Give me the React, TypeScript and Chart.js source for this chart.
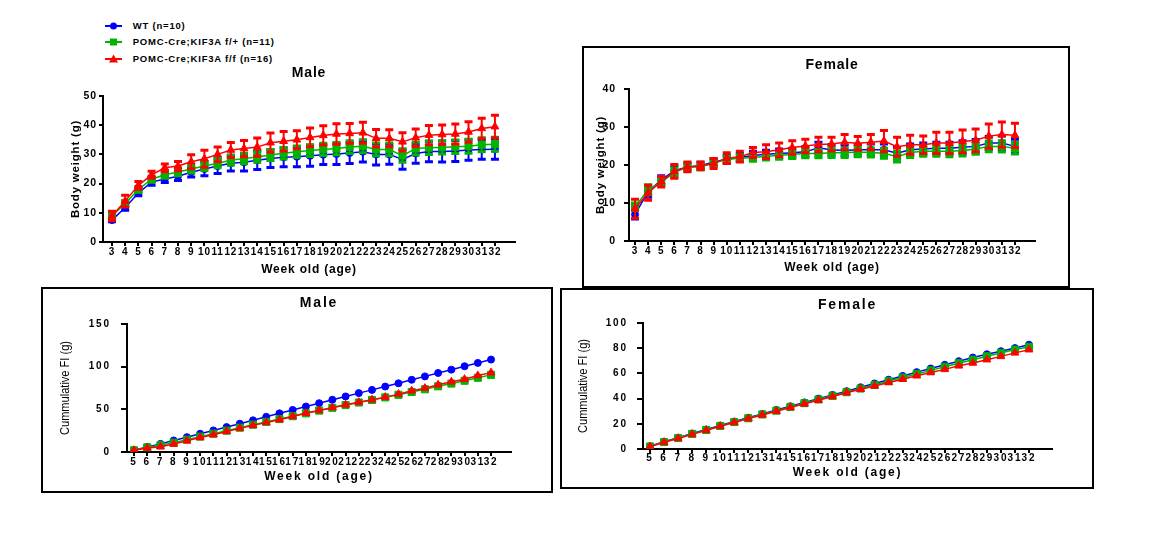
import React, { useEffect, useRef } from 'react';
import { Chart, registerables } from 'chart.js';

Chart.register(...registerables);

const FONT = '"Liberation Sans", Arial, Helvetica, sans-serif';

const BLUE = '#0000FF';
const GREEN = '#00B400';
const RED = '#FF0000';

const seriesNames = ['WT (n=10)', 'POMC-Cre;KIF3A f/+ (n=11)', 'POMC-Cre;KIF3A f/f (n=16)'];

// x categories (tick labels): week of age
const bwWeeks = [3, 4, 5, 6, 7, 8, 9, 10, 11, 12, 13, 14, 15, 16, 17, 18, 19, 20, 21, 22, 23, 24, 25, 26, 27, 28, 29, 30, 31, 32];
const fiWeeks = [5, 6, 7, 8, 9, 10, 11, 12, 13, 14, 15, 16, 17, 18, 19, 20, 21, 22, 23, 24, 25, 26, 27, 28, 29, 30, 31, 32];

// Male body weight (g), mean and SEM
const maleBwWT = [7.5, 11.8, 16.8, 20.5, 21.6, 22.5, 23.9, 25.0, 26.0, 27.0, 27.3, 28.0, 28.6, 29.0, 29.2, 29.5, 29.9, 30.1, 30.5, 30.9, 30.0, 30.0, 28.3, 30.3, 31.0, 31.0, 31.2, 31.5, 31.7, 31.8];
const maleBwWTErr = [0.6, 0.9, 1.0, 1.1, 1.2, 1.4, 1.6, 2.3, 2.5, 2.7, 3.0, 3.2, 3.1, 3.2, 3.4, 3.6, 3.4, 3.6, 3.6, 3.5, 3.6, 3.4, 3.4, 3.3, 3.5, 3.6, 3.6, 3.5, 3.4, 3.5];
const maleBwHet = [9.0, 13.2, 18.0, 21.5, 23.0, 24.0, 25.0, 26.0, 27.0, 28.0, 28.6, 29.1, 29.8, 30.4, 30.9, 31.3, 31.7, 32.0, 32.5, 32.8, 31.7, 31.7, 29.6, 32.0, 32.3, 32.4, 32.6, 32.8, 33.3, 33.5];
const maleBwHetErr = [0.8, 1.0, 1.0, 1.0, 1.2, 1.3, 1.4, 1.5, 1.6, 1.7, 1.8, 1.8, 1.9, 2.0, 2.0, 2.0, 2.1, 2.1, 2.2, 2.2, 2.2, 2.2, 2.3, 2.2, 2.3, 2.3, 2.3, 2.4, 2.4, 2.4];
const maleBwKO = [8.9, 14.0, 19.4, 23.0, 25.4, 26.0, 27.5, 28.5, 30.0, 31.5, 32.0, 32.5, 34.0, 34.5, 35.0, 35.8, 36.5, 37.0, 37.2, 37.4, 35.5, 35.5, 34.3, 35.7, 36.6, 36.8, 37.0, 37.7, 38.9, 39.5];
const maleBwKOErr = [1.6, 2.0, 1.3, 1.2, 1.3, 1.6, 2.4, 2.9, 2.5, 2.6, 2.8, 3.1, 3.3, 3.3, 3.1, 3.2, 3.3, 3.5, 3.4, 3.6, 3.0, 2.9, 3.1, 3.0, 3.3, 3.3, 3.4, 3.5, 3.5, 3.9];

// Female body weight (g), mean and SEM
const femBwWT = [7.0, 13.0, 16.0, 18.5, 19.5, 19.8, 20.8, 21.5, 22.0, 22.5, 22.8, 23.0, 23.2, 23.5, 24.5, 24.0, 23.8, 24.0, 24.0, 24.0, 23.1, 24.0, 24.2, 24.4, 24.4, 24.7, 24.9, 25.8, 25.8, 24.9];
const femBwWTErr = [1.2, 1.5, 1.2, 1.3, 1.0, 0.9, 0.9, 1.0, 1.0, 1.1, 1.1, 1.2, 1.2, 1.3, 1.5, 1.4, 1.4, 1.4, 1.5, 1.5, 1.5, 1.5, 1.6, 1.6, 1.6, 1.7, 1.8, 1.7, 1.8, 1.9];
const femBwHet = [9.0, 13.5, 15.5, 18.0, 19.5, 19.5, 20.5, 21.5, 21.8, 22.0, 22.3, 22.5, 22.8, 23.0, 23.0, 23.2, 23.2, 23.4, 23.3, 23.1, 22.2, 23.3, 23.6, 23.6, 23.6, 23.8, 24.2, 24.9, 24.9, 24.4];
const femBwHetErr = [1.0, 1.3, 1.0, 1.2, 0.9, 0.8, 0.8, 0.9, 0.9, 1.0, 1.0, 1.0, 1.1, 1.1, 1.1, 1.2, 1.2, 1.2, 1.2, 1.3, 1.4, 1.3, 1.3, 1.3, 1.4, 1.4, 1.4, 1.4, 1.5, 1.5];
const femBwKO = [8.5, 12.7, 15.6, 18.3, 19.5, 19.8, 20.4, 21.8, 22.2, 23.3, 23.5, 24.0, 24.6, 25.0, 25.4, 25.5, 26.0, 25.7, 26.0, 26.3, 24.8, 25.3, 25.3, 25.8, 25.8, 26.2, 26.5, 27.6, 28.0, 27.8];
const femBwKOErr = [2.5, 2.0, 1.4, 1.8, 1.3, 1.0, 1.3, 1.4, 1.4, 1.3, 1.8, 1.8, 1.8, 1.8, 1.9, 1.8, 2.0, 1.8, 2.0, 2.8, 2.5, 2.5, 2.3, 2.8, 2.8, 3.0, 3.0, 3.2, 3.3, 3.2];

// Cumulative food intake (g)
const maleFiWT = [2.0, 5.8, 9.5, 13.5, 17.4, 21.4, 25.3, 29.2, 33.2, 37.1, 41.2, 45.3, 49.3, 53.3, 57.2, 61.2, 65.1, 69.0, 72.8, 76.7, 80.5, 84.6, 88.6, 92.6, 96.5, 100.5, 104.4, 108.3];
const maleFiHet = [2.0, 5.5, 8.0, 11.0, 14.5, 18.0, 21.5, 25.0, 28.5, 32.0, 35.3, 38.6, 42.0, 45.3, 48.5, 51.8, 55.0, 58.0, 61.0, 64.0, 67.0, 70.3, 73.5, 77.0, 80.2, 83.5, 87.0, 90.4];
const maleFiKO = [2.0, 4.7, 6.2, 9.3, 13.2, 17.1, 20.3, 24.1, 27.7, 31.2, 34.6, 37.8, 41.7, 45.6, 48.7, 52.2, 55.3, 58.4, 61.2, 64.3, 67.8, 71.7, 74.8, 78.7, 82.2, 85.3, 89.6, 93.0];
const femFiWT = [2.2, 5.8, 9.0, 12.3, 15.5, 18.6, 21.8, 24.8, 27.8, 30.9, 33.9, 37.0, 40.0, 42.9, 45.9, 49.0, 52.0, 55.0, 58.0, 61.0, 63.9, 66.8, 69.7, 72.6, 75.2, 77.6, 80.1, 82.8];
const femFiHet = [2.0, 5.5, 8.7, 12.0, 15.1, 18.3, 21.4, 24.4, 27.4, 30.4, 33.4, 36.4, 39.3, 42.2, 45.1, 48.0, 50.9, 53.9, 56.7, 59.6, 62.4, 65.3, 68.1, 70.9, 73.6, 76.2, 78.9, 81.0];
const femFiKO = [1.9, 5.3, 8.4, 11.6, 14.8, 18.0, 21.1, 24.1, 27.0, 30.0, 32.9, 35.8, 38.7, 41.6, 44.6, 47.4, 50.0, 52.8, 55.4, 58.1, 60.7, 63.2, 66.0, 68.3, 70.9, 73.5, 76.3, 78.8];

const errorBars = {
  id: 'errorBars',
  beforeDatasetDraw(chart: any, args: any) {
    const ds = chart.data.datasets[args.index];
    if (!ds.errors) return;
    const ctx = chart.ctx;
    const ys = chart.scales.y;
    ctx.save();
    ctx.strokeStyle = ds.borderColor;
    ctx.lineCap = 'butt';
    args.meta.data.forEach((el: any, j: number) => {
      const v = ds.data[j].y;
      const e = ds.errors[j];
      const y1 = ys.getPixelForValue(v + e);
      const y2 = ys.getPixelForValue(v - e);
      const x = el.x;
      ctx.lineWidth = 2;
      ctx.beginPath();
      ctx.moveTo(x, y1);
      ctx.lineTo(x, y2);
      ctx.stroke();
      ctx.lineWidth = 3;
      ctx.beginPath();
      ctx.moveTo(x - 4, y1);
      ctx.lineTo(x + 4, y1);
      ctx.moveTo(x - 4, y2);
      ctx.lineTo(x + 4, y2);
      ctx.stroke();
    });
    ctx.restore();
  },
};

const panelText = {
  id: 'panelText',
  beforeDraw(chart: any, _a: any, opts: any) {
    chart.ctx.letterSpacing = (opts.spacing || 0) + 'px';
  },
  afterDraw(chart: any, _a: any, opts: any) {
    const ctx = chart.ctx;
    const a = chart.chartArea;
    ctx.save();
    ctx.font = opts.font;
    ctx.fillStyle = '#000';
    ctx.textAlign = 'center';
    ctx.textBaseline = 'middle';
    ctx.fillText(opts.text, (a.left + a.right) / 2, opts.y);
    ctx.restore();
    ctx.letterSpacing = '0px';
  },
};

type Series = { name: string; color: string; style: string; radius: number; values: number[]; errors?: number[] };
type PanelCfg = {
  left: number; top: number; width: number;
  area: { l: number; r: number; t: number; b: number };
  weeks: number[]; xMin: number; xMax: number; yMax: number; yStep: number;
  title: string; titleY: number; titleSize: number;
  yTitle: string; yTitleX: number; yTitleSize: number; yTitleBold: boolean; yTitleCompress: number; yTitleNoSpacing: boolean;
  xTitle: string; xTitleY: number; xTitleSize: number;
  xTickSize: number; yTickSize: number; xTickLen: number; yTickLen: number; xTickPad: number; yTickPad: number;
  spacing: number; lineWidth: number; series: Series[];
};

function Panel({ cfg }: { cfg: PanelCfg }) {
  const ref = useRef<HTMLCanvasElement | null>(null);
  const lhX = cfg.xTitleSize * 1.2;
  const hx = cfg.xTitleY - cfg.area.b + lhX / 2 + 1;
  const height = Math.ceil(cfg.area.b - cfg.top + hx + 2);
  useEffect(() => {
    const canvas = ref.current;
    if (!canvas) return;
    const wy = cfg.area.l - cfg.left;
    const pt = cfg.area.t - cfg.top;
    const pr = cfg.left + cfg.width - cfg.area.r;
    const pb = cfg.top + height - cfg.area.b - hx;
    const lhY = cfg.yTitleSize * 1.2;
    const yTitlePad = Math.max(0, cfg.yTitleX - cfg.left - lhY / 2);
    const datasets = cfg.series.map((s, i) => ({
      label: s.name,
      data: cfg.weeks.map((w, j) => ({ x: w, y: s.values[j] })),
      errors: s.errors,
      borderColor: s.color,
      backgroundColor: s.color,
      borderWidth: cfg.lineWidth,
      pointStyle: s.style,
      pointRadius: s.radius,
      pointHoverRadius: s.radius,
      pointBackgroundColor: s.color,
      pointBorderColor: s.color,
      pointBorderWidth: 1,
      tension: 0,
      fill: false,
      order: 3 - i,
    }));
    const chart = new Chart(canvas, {
      type: 'line',
      data: { datasets } as any,
      options: {
        animation: false,
        responsive: false,
        maintainAspectRatio: false,
        devicePixelRatio: 1,
        events: [],
        layout: { padding: { left: 0, top: pt, right: pr, bottom: pb } },
        plugins: {
          legend: { display: false },
          title: { display: false },
          tooltip: { enabled: false },
          panelText: {
            text: cfg.title,
            y: cfg.titleY - cfg.top,
            font: `bold ${cfg.titleSize}px ${FONT}`,
            spacing: cfg.spacing,
          },
        } as any,
        scales: {
          x: {
            type: 'linear',
            min: cfg.xMin,
            max: cfg.xMax,
            afterBuildTicks: (s: any) => {
              s.ticks = cfg.weeks.map((v) => ({ value: v }));
            },
            afterFit: (s: any) => {
              s.height = hx;
            },
            ticks: {
              autoSkip: false,
              maxRotation: 0,
              minRotation: 0,
              padding: cfg.xTickPad,
              color: '#000',
              font: { family: FONT, size: cfg.xTickSize, weight: 'bold', lineHeight: 1 },
              callback: (v: any) => String(v),
            },
            grid: { display: true, drawOnChartArea: false, drawTicks: true, tickLength: cfg.xTickLen, color: '#000', lineWidth: 2 },
            border: { display: true, color: '#000', width: 2 },
            title: {
              display: true,
              text: cfg.xTitle,
              color: '#000',
              font: { family: FONT, size: cfg.xTitleSize, weight: 'bold', lineHeight: 1.2 },
              padding: { top: 0, bottom: 1 },
            },
          },
          y: {
            type: 'linear',
            min: 0,
            max: cfg.yMax,
            afterFit: (s: any) => {
              s.width = wy;
              if (!s._titlePatched) {
                const orig = s.drawTitle;
                s.drawTitle = function () {
                  const ctx = this.ctx;
                  ctx.save();
                  if (cfg.yTitleNoSpacing) ctx.letterSpacing = '0px';
                  const cx = cfg.yTitleX - cfg.left;
                  const cy = (this.top + this.bottom) / 2;
                  ctx.translate(cx, cy);
                  ctx.scale(1, cfg.yTitleCompress);
                  ctx.translate(-cx, -cy);
                  orig.call(this);
                  ctx.restore();
                };
                s._titlePatched = true;
              }
            },
            ticks: {
              stepSize: cfg.yStep,
              padding: cfg.yTickPad,
              color: '#000',
              font: { family: FONT, size: cfg.yTickSize, weight: 'bold', lineHeight: 1 },
            },
            grid: { display: true, drawOnChartArea: false, drawTicks: true, tickLength: cfg.yTickLen, color: '#000', lineWidth: 2 },
            border: { display: true, color: '#000', width: 2 },
            title: {
              display: true,
              text: cfg.yTitle,
              color: '#000',
              font: { family: FONT, size: cfg.yTitleSize, weight: cfg.yTitleBold ? 'bold' : 'normal', lineHeight: 1.2 },
              padding: { top: yTitlePad, bottom: 0 },
            },
          },
        },
      } as any,
      plugins: [errorBars, panelText],
    });
    return () => chart.destroy();
  }, []);
  return (
    <canvas
      ref={ref}
      width={cfg.width}
      height={height}
      style={{ position: 'absolute', left: cfg.left, top: cfg.top, width: cfg.width, height }}
    />
  );
}

const topCommon = {
  weeks: bwWeeks,
  yStep: 10,
  titleSize: 14,
  yTitle: 'Body weight (g)',
  yTitleSize: 11.5,
  yTitleBold: true,
  yTitleCompress: 1,
  yTitleNoSpacing: false,
  xTitle: 'Week old (age)',
  xTitleSize: 12,
  xTickSize: 10,
  yTickSize: 10.5,
  xTickLen: 4,
  xTickPad: 1.5,
  spacing: 0.8,
  lineWidth: 1.5,
};

const bottomCommon = {
  weeks: fiWeeks,
  titleSize: 14,
  yTitle: 'Cummulative FI (g)',
  yTitleSize: 13,
  yTitleBold: false,
  yTitleCompress: 0.85,
  yTitleNoSpacing: true,
  xTitle: 'Week old (age)',
  xTitleSize: 12,
  xTickSize: 10,
  yTickSize: 10,
  xTickLen: 4,
  yTickLen: 6,
  spacing: 1.8,
  lineWidth: 1.5,
};

const maleBwCfg: PanelCfg = {
  ...topCommon,
  left: 60, top: 55, width: 470,
  area: { l: 103, r: 515, t: 96, b: 242 },
  xMin: 2.32, xMax: 33.52, yMax: 50,
  title: 'Male', titleY: 73,
  yTitleX: 76, xTitleY: 270,
  yTickLen: 4, yTickPad: 2.2,
  series: [
    { name: seriesNames[0], color: BLUE, style: 'circle', radius: 3.5, values: maleBwWT, errors: maleBwWTErr },
    { name: seriesNames[1], color: GREEN, style: 'rect', radius: 5, values: maleBwHet, errors: maleBwHetErr },
    { name: seriesNames[2], color: RED, style: 'triangle', radius: 4.5, values: maleBwKO, errors: maleBwKOErr },
  ],
};

const femBwCfg: PanelCfg = {
  ...topCommon,
  left: 589, top: 50, width: 461,
  area: { l: 629, r: 1035, t: 89, b: 241 },
  xMin: 2.54, xMax: 33.53, yMax: 40,
  title: 'Female', titleY: 65,
  yTitleX: 601, xTitleY: 268,
  yTickLen: 5, yTickPad: 8.2,
  series: [
    { name: seriesNames[0], color: BLUE, style: 'circle', radius: 3.5, values: femBwWT, errors: femBwWTErr },
    { name: seriesNames[1], color: GREEN, style: 'rect', radius: 5, values: femBwHet, errors: femBwHetErr },
    { name: seriesNames[2], color: RED, style: 'triangle', radius: 4.5, values: femBwKO, errors: femBwKOErr },
  ],
};

const maleFiCfg: PanelCfg = {
  ...bottomCommon,
  left: 50, top: 292, width: 490,
  area: { l: 127, r: 511, t: 324, b: 452 },
  xMin: 4.47, xMax: 33.51, yMax: 150, yStep: 50,
  title: 'Male', titleY: 303.5,
  yTitleX: 65, xTitleY: 477,
  xTickPad: 1.5, yTickPad: 10.2,
  series: [
    { name: seriesNames[0], color: BLUE, style: 'circle', radius: 3.5, values: maleFiWT },
    { name: seriesNames[1], color: GREEN, style: 'rect', radius: 5, values: maleFiHet },
    { name: seriesNames[2], color: RED, style: 'triangle', radius: 4.5, values: maleFiKO },
  ],
};

const femFiCfg: PanelCfg = {
  ...bottomCommon,
  left: 572, top: 292, width: 493,
  area: { l: 643, r: 1052, t: 323, b: 449 },
  xMin: 4.5, xMax: 33.64, yMax: 100, yStep: 20,
  title: 'Female', titleY: 305,
  yTitleX: 583, xTitleY: 473,
  xTickPad: 0, yTickPad: 9.2,
  series: [
    { name: seriesNames[0], color: BLUE, style: 'circle', radius: 3.5, values: femFiWT },
    { name: seriesNames[1], color: GREEN, style: 'rect', radius: 5, values: femFiHet },
    { name: seriesNames[2], color: RED, style: 'triangle', radius: 4.5, values: femFiKO },
  ],
};

function LegendMarker({ shape, color }: { shape: string; color: string }) {
  if (shape === 'circle') return <circle cx={9.5} cy={7} r={3.5} fill={color} />;
  if (shape === 'rect') return <rect x={6} y={3.5} width={7} height={7} fill={color} />;
  return <polygon points="9.5,2.5 14,10.5 5,10.5" fill={color} />;
}

function Legend() {
  const rows = [
    { name: seriesNames[0], color: BLUE, shape: 'circle' },
    { name: seriesNames[1], color: GREEN, shape: 'rect' },
    { name: seriesNames[2], color: RED, shape: 'triangle' },
  ];
  return (
    <div style={{ position: 'absolute', left: 100, top: 18.7, width: 230, height: 54 }}>
      {rows.map((r, i) => (
        <div key={i} style={{ position: 'absolute', left: 0, top: i * 16.8, width: 230, height: 14 }}>
          <svg width={20} height={14} style={{ position: 'absolute', left: 4, top: 0 }}>
            <line x1={1} y1={7} x2={18} y2={7} stroke={r.color} strokeWidth={2} />
            <LegendMarker shape={r.shape} color={r.color} />
          </svg>
          <span
            style={{
              position: 'absolute',
              left: 32.7,
              top: 0,
              lineHeight: '14px',
              fontFamily: FONT,
              fontWeight: 'bold',
              fontSize: 9.5,
              letterSpacing: '0.8px',
              whiteSpace: 'nowrap',
              color: '#000',
            }}
          >
            {r.name}
          </span>
        </div>
      ))}
    </div>
  );
}

function Box({ l, t, w, h }: { l: number; t: number; w: number; h: number }) {
  return (
    <div
      style={{
        position: 'absolute',
        left: l,
        top: t,
        width: w,
        height: h,
        boxSizing: 'border-box',
        border: '2px solid #000',
      }}
    />
  );
}

export default function App() {
  return (
    <div style={{ position: 'absolute', left: 0, top: 0, width: 1161, height: 560, background: '#fff', overflow: 'hidden' }}>
      <Box l={582} t={46} w={488} h={242} />
      <Box l={41} t={287} w={512} h={206} />
      <Box l={560} t={288} w={534} h={201} />
      <Legend />
      <Panel cfg={maleBwCfg} />
      <Panel cfg={femBwCfg} />
      <Panel cfg={maleFiCfg} />
      <Panel cfg={femFiCfg} />
    </div>
  );
}
